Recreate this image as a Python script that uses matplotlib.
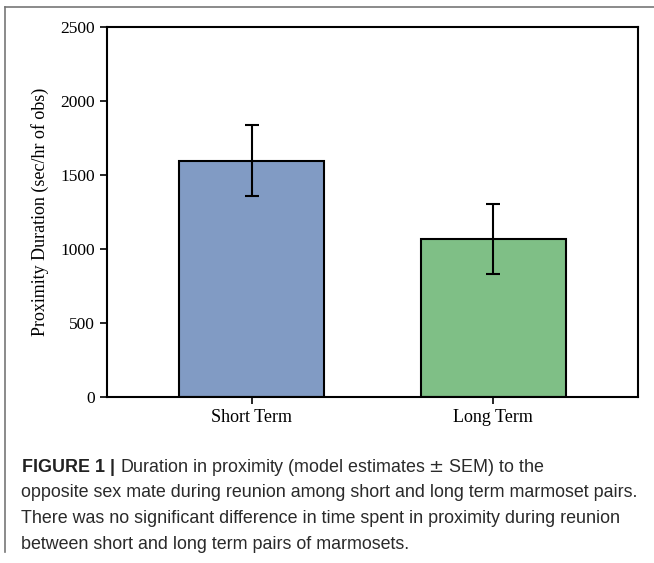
import numpy as np
import matplotlib
matplotlib.use("Agg")
import matplotlib.pyplot as plt
from matplotlib.lines import Line2D

groups = ["Short Term", "Long Term"]
means = [1595, 1068]
sem = [240, 238]
bar_colors = ["#819bc4", "#7fbf86"]

caption = [
    "Duration in proximity (model estimates $\\pm$ SEM) to the",
    "opposite sex mate during reunion among short and long term marmoset pairs.",
    "There was no significant difference in time spent in proximity during reunion",
    "between short and long term pairs of marmosets.",
]

fig = plt.figure(figsize=(6.54, 5.63), dpi=100)
W, H = 654, 563
ax = fig.add_axes([107 / W, 1 - 397 / H, (638 - 107) / W, (397 - 27) / H])

x = np.arange(len(groups))
ax.bar(x, means, width=0.6, color=bar_colors, edgecolor="black", linewidth=1.5)
ax.errorbar(x, means, yerr=sem, fmt="none", ecolor="black", elinewidth=1.5,
            capsize=5, capthick=1.5)

ax.set_xlim(-0.6, 1.6)
ax.set_ylim(0, 2500)
ax.set_yticks(np.arange(0, 2501, 500))
ax.set_xticks(x)
ax.set_xticklabels(groups, family="Liberation Serif", fontsize=13)
for lab in ax.get_yticklabels():
    lab.set_family("Liberation Serif")
    lab.set_fontsize(12.5)
ax.tick_params(axis="both", direction="out", length=5, width=1.2,
               top=False, right=False)
for s in ax.spines.values():
    s.set_linewidth(1.5)
ax.set_ylabel("Proximity Duration (sec/hr of obs)", family="Liberation Serif",
              fontsize=13, labelpad=8)

# frame lines of the figure panel
fig.add_artist(Line2D([5 / W, 5 / W], [1 - 7 / H, 1 - 552 / H], color="#777777",
                      lw=1.2, transform=fig.transFigure))
fig.add_artist(Line2D([5 / W, 1], [1 - 7 / H, 1 - 7 / H], color="#777777",
                      lw=1.2, transform=fig.transFigure))

# caption
y0 = 467
fs = 12.9
t = fig.text(22 / W, 1 - y0 / H, "FIGURE 1 |", family="Liberation Sans",
             fontweight="bold", fontsize=fs, va="center", color="#222222")
r = fig.canvas.get_renderer()
bb = t.get_window_extent(renderer=r)
fig.text(bb.x1 / W + 5 / W, 1 - y0 / H, caption[0], family="Liberation Sans",
         fontsize=fs, va="center", color="#2a2a2a")
for i, line in enumerate(caption[1:]):
    fig.text(21 / W, 1 - (y0 + 25.7 * (i + 1)) / H, line, family="Liberation Sans",
             fontsize=fs, va="center", color="#2a2a2a")

fig.savefig("out.png", dpi=100)
